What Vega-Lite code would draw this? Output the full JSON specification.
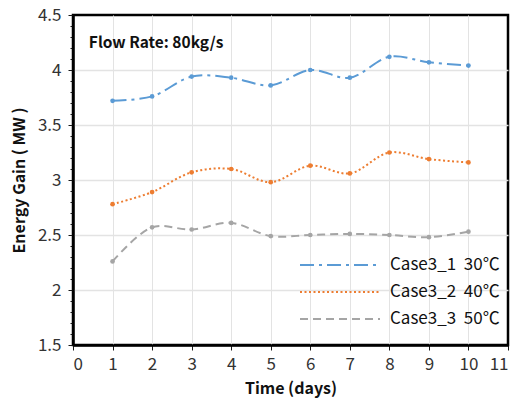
{
  "$schema": "https://vega.github.io/schema/vega-lite/v6.json",
  "width": 435,
  "height": 330,
  "autosize": {"type": "none"},
  "padding": {"left": 73, "top": 15, "right": 7, "bottom": 56},
  "background": "white",
  "view": {"stroke": "#000000", "strokeWidth": 2.5},
  "config": {
    "font": "Noto Sans CJK SC"
  },
  "datasets": {
    "energy": [
      {"day": 1, "gain": 3.72, "series": "Case3_1\u00a0\u00a030℃"},
      {"day": 2, "gain": 3.76, "series": "Case3_1\u00a0\u00a030℃"},
      {"day": 3, "gain": 3.94, "series": "Case3_1\u00a0\u00a030℃"},
      {"day": 4, "gain": 3.93, "series": "Case3_1\u00a0\u00a030℃"},
      {"day": 5, "gain": 3.86, "series": "Case3_1\u00a0\u00a030℃"},
      {"day": 6, "gain": 4.00, "series": "Case3_1\u00a0\u00a030℃"},
      {"day": 7, "gain": 3.93, "series": "Case3_1\u00a0\u00a030℃"},
      {"day": 8, "gain": 4.12, "series": "Case3_1\u00a0\u00a030℃"},
      {"day": 9, "gain": 4.07, "series": "Case3_1\u00a0\u00a030℃"},
      {"day": 10, "gain": 4.04, "series": "Case3_1\u00a0\u00a030℃"},
      {"day": 1, "gain": 2.78, "series": "Case3_2\u00a0\u00a040℃"},
      {"day": 2, "gain": 2.89, "series": "Case3_2\u00a0\u00a040℃"},
      {"day": 3, "gain": 3.07, "series": "Case3_2\u00a0\u00a040℃"},
      {"day": 4, "gain": 3.10, "series": "Case3_2\u00a0\u00a040℃"},
      {"day": 5, "gain": 2.98, "series": "Case3_2\u00a0\u00a040℃"},
      {"day": 6, "gain": 3.13, "series": "Case3_2\u00a0\u00a040℃"},
      {"day": 7, "gain": 3.06, "series": "Case3_2\u00a0\u00a040℃"},
      {"day": 8, "gain": 3.25, "series": "Case3_2\u00a0\u00a040℃"},
      {"day": 9, "gain": 3.19, "series": "Case3_2\u00a0\u00a040℃"},
      {"day": 10, "gain": 3.16, "series": "Case3_2\u00a0\u00a040℃"},
      {"day": 1, "gain": 2.26, "series": "Case3_3\u00a0\u00a050℃"},
      {"day": 2, "gain": 2.57, "series": "Case3_3\u00a0\u00a050℃"},
      {"day": 3, "gain": 2.55, "series": "Case3_3\u00a0\u00a050℃"},
      {"day": 4, "gain": 2.61, "series": "Case3_3\u00a0\u00a050℃"},
      {"day": 5, "gain": 2.49, "series": "Case3_3\u00a0\u00a050℃"},
      {"day": 6, "gain": 2.50, "series": "Case3_3\u00a0\u00a050℃"},
      {"day": 7, "gain": 2.51, "series": "Case3_3\u00a0\u00a050℃"},
      {"day": 8, "gain": 2.50, "series": "Case3_3\u00a0\u00a050℃"},
      {"day": 9, "gain": 2.48, "series": "Case3_3\u00a0\u00a050℃"},
      {"day": 10, "gain": 2.53, "series": "Case3_3\u00a0\u00a050℃"}
    ],
    "note": [{"day": 0.4, "gain": 4.245, "label": "Flow Rate: 80kg/s"}]
  },
  "encoding": {
    "x": {
      "field": "day", "type": "quantitative",
      "scale": {"domain": [0, 11], "nice": false, "zero": false},
      "axis": {
        "title": "Time (days)",
        "values": [0,1,2,3,4,5,6,7,8,9,10,11],
        "format": "d", "labelOverlap": false,
        "grid": true, "gridColor": "#e3e3e3", "gridWidth": 1,
        "gridOpacity": {"condition": {"test": "datum.value > 0 && datum.value < 11", "value": 1}, "value": 0},
        "domain": true, "domainColor": "#000000", "domainWidth": 2.5, "domainOpacity": 1,
        "tickColor": "#1a1a1a", "tickSize": 5, "tickWidth": 1,
        "labelFontSize": 17, "labelColor": "#333333", "labelPadding": 6,
        "labelFont": "Noto Sans CJK SC",
        "titleFontSize": 16, "titleFontWeight": "bold", "titleColor": "#111111",
        "titlePadding": 8, "titleFont": "Noto Sans CJK SC"
      }
    },
    "y": {
      "field": "gain", "type": "quantitative",
      "scale": {"domain": [1.5, 4.5], "nice": false, "zero": false},
      "axis": {
        "title": "Energy Gain ( MW )",
        "values": [1.5,1.6,1.7,1.8,1.9,2,2.1,2.2,2.3,2.4,2.5,2.6,2.7,2.8,2.9,3,3.1,3.2,3.3,3.4,3.5,3.6,3.7,3.8,3.9,4,4.1,4.2,4.3,4.4,4.5],
        "labelExpr": "abs(datum.value*2 - round(datum.value*2)) < 0.01 ? format(datum.value, '~g') : ''",
        "labelOverlap": false,
        "grid": true, "gridColor": "#e3e3e3", "gridWidth": 1.5,
        "gridOpacity": {"condition": {"test": "abs(datum.value*2 - round(datum.value*2)) < 0.01 && datum.value > 1.55 && datum.value < 4.45", "value": 1}, "value": 0},
        "domain": true, "domainColor": "#000000", "domainWidth": 2.5, "domainOpacity": 1,
        "tickColor": "#1a1a1a", "tickWidth": 1,
        "tickSize": {"condition": {"test": "abs(datum.value*2 - round(datum.value*2)) < 0.01", "value": 5}, "value": 3},
        "labelFontSize": 17, "labelColor": "#333333", "labelPadding": 7,
        "labelFont": "Noto Sans CJK SC",
        "titleFontSize": 16, "titleFontWeight": "bold", "titleColor": "#111111",
        "titlePadding": 10, "titleFont": "Noto Sans CJK SC"
      }
    }
  },
  "layer": [
    {
      "data": {"name": "energy"},
      "mark": {"type": "line", "interpolate": "catmull-rom", "strokeWidth": 2},
      "encoding": {
        "color": {
          "field": "series", "type": "nominal",
          "scale": {"domain": ["Case3_1\u00a0\u00a030℃", "Case3_2\u00a0\u00a040℃", "Case3_3\u00a0\u00a050℃"], "range": ["#5B9BD5", "#ED7D31", "#A5A5A5"]},
          "legend": {
            "title": null, "orient": "none", "legendX": 256, "legendY": 239,
            "symbolType": "M-4,0H4", "symbolSize": 400, "symbolStrokeWidth": 2,
            "labelFontSize": 17, "labelColor": "#111111", "labelOffset": 39,
            "labelFont": "Noto Sans CJK SC", "rowPadding": 8, "padding": 0
          }
        },
        "strokeDash": {
          "field": "series", "type": "nominal",
          "scale": {"domain": ["Case3_1\u00a0\u00a030℃", "Case3_2\u00a0\u00a040℃", "Case3_3\u00a0\u00a050℃"], "range": [[14, 5, 3, 5], [2, 2.5], [8, 5]]},
          "legend": {
            "title": null, "orient": "none", "legendX": 256, "legendY": 239,
            "symbolType": "M-4,0H4", "symbolSize": 400, "symbolStrokeWidth": 2,
            "labelFontSize": 17, "labelColor": "#111111", "labelOffset": 39,
            "labelFont": "Noto Sans CJK SC", "rowPadding": 8, "padding": 0
          }
        }
      }
    },
    {
      "data": {"name": "energy"},
      "mark": {"type": "point", "filled": true, "size": 22, "opacity": 1},
      "encoding": {
        "color": {"field": "series", "type": "nominal", "legend": null}
      }
    },
    {
      "data": {"name": "note"},
      "mark": {"type": "text", "align": "left", "baseline": "middle", "fontSize": 15.5, "fontWeight": "bold", "color": "#111111", "font": "Noto Sans CJK SC"},
      "encoding": {
        "text": {"field": "label"}
      }
    }
  ]
}
